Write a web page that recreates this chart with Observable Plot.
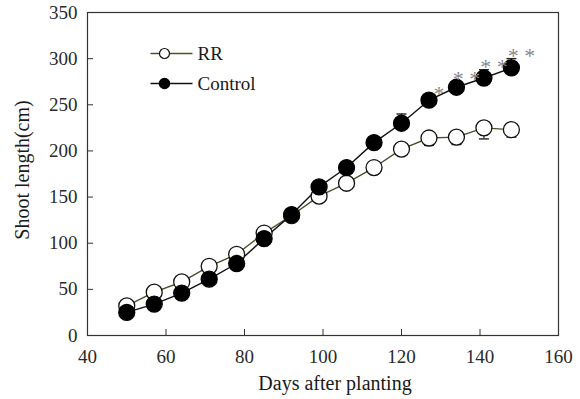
<!DOCTYPE html>
<html>
<head>
<meta charset="utf-8">
<script src="https://cdn.jsdelivr.net/npm/d3@7"></script>
<script src="https://cdn.jsdelivr.net/npm/@observablehq/plot@0.6"></script>
<style>
  html, body { margin: 0; padding: 0; background: #fff; }
  #chart { width: 580px; height: 399px; }
</style>
</head>
<body>
<div id="chart"></div>
<script>
// ---- data ----
const days = [50, 57, 64, 71, 78, 85, 92, 99, 106, 113, 120, 127, 134, 141, 148];
const rrLength = [32, 47, 58, 75, 88, 111, 130, 151, 165, 182, 202, 214, 215, 225, 223];
const rrErr = [1, 1, 2, 2, 2, 2, 3, 2, 2, 3, 3, 8, 8, 12, 8];
const controlLength = [25, 34, 46, 61, 78, 105, 131, 161, 182, 209, 230, 255, 269, 279, 290];
const controlErr = [1, 2, 2, 2, 2, 3, 3, 3, 4, 3, 10, 4, 6, 9, 10];
const sigDays = [127, 134, 141, 148];
const sigMarks = ["*", "* *", "* *", "* *"];
const xTicks = [40, 60, 80, 100, 120, 140, 160];
const yTicks = [0, 50, 100, 150, 200, 250, 300, 350];
const seriesNames = ["RR", "Control"];

// ---- tables built from the arrays ----
const rr = days.map((d, i) => ({day: d, v: rrLength[i], e: rrErr[i]}));
const ctl = days.map((d, i) => ({day: d, v: controlLength[i], e: controlErr[i]}));
const sig = sigDays.map((d, i) => {
  const j = days.indexOf(d);
  return {day: d, top: controlLength[j] + controlErr[j], mark: sigMarks[i]};
});

const capSymbol = {draw(ctx) { ctx.moveTo(-5, 0); ctx.lineTo(5, 0); }};
const legendLine = {draw(ctx) { ctx.moveTo(-14, 0); ctx.lineTo(28, 0); }};

const font = "Liberation Serif, Times New Roman, serif";
const rrLine = "#4f4f2c";

const chart = Plot.plot({
  width: 580,
  height: 399,
  marginLeft: 87,
  marginRight: 22,
  marginTop: 12,
  marginBottom: 64,
  style: {fontFamily: font, fontSize: "19px", color: "#2a2a2a", background: "#fff"},
  x: {domain: [40, 160], ticks: xTicks},
  y: {domain: [0, 350], ticks: yTicks},
  marks: [
    Plot.frame({stroke: "#333", strokeWidth: 1.2}),
    Plot.axisX({ticks: xTicks, tickSize: -6, tickPadding: 20, label: null, stroke: "#333", fontSize: 19}),
    Plot.axisY({ticks: yTicks, tickSize: -6, tickPadding: 16, label: null, stroke: "#333", fontSize: 19}),
    Plot.text(["Days after planting"], {frameAnchor: "bottom", textAnchor: "middle", lineAnchor: "middle", dx: 12, dy: 48, fontSize: 20, fill: "#1a1a1a"}),
    Plot.text(["Shoot length(cm)"], {frameAnchor: "left", textAnchor: "middle", lineAnchor: "middle", dx: -65, dy: -4, rotate: -90, fontSize: 20, fill: "#1a1a1a"}),
    // error bars: RR downward, Control upward
    Plot.ruleX(rr, {x: "day", y1: "v", y2: d => d.v - d.e, stroke: "#222", strokeWidth: 1.2}),
    Plot.dot(rr, {x: "day", y: d => d.v - d.e, symbol: capSymbol, stroke: "#222", strokeWidth: 1.4}),
    Plot.ruleX(ctl, {x: "day", y1: "v", y2: d => d.v + d.e, stroke: "#222", strokeWidth: 1.2}),
    Plot.dot(ctl, {x: "day", y: d => d.v + d.e, symbol: capSymbol, stroke: "#222", strokeWidth: 1.4}),
    // lines
    Plot.line(rr, {x: "day", y: "v", stroke: rrLine, strokeWidth: 1.4}),
    Plot.line(ctl, {x: "day", y: "v", stroke: "#111", strokeWidth: 1.4}),
    // markers
    Plot.dot(rr, {x: "day", y: "v", r: 8, fill: "#fff", stroke: "#111", strokeWidth: 1.3}),
    Plot.dot(ctl, {x: "day", y: "v", r: 8, fill: "#000", stroke: "#000", strokeWidth: 1.3}),
    // significance asterisks
    Plot.text(sig, {x: "day", y: "top", text: "mark", dx: 10, dy: -3, fontSize: 22, fill: "#888"}),
    // legend
    Plot.dot([seriesNames[0]], {frameAnchor: "top-left", dx: 77, dy: 41, symbol: legendLine, stroke: rrLine, strokeWidth: 1.4}),
    Plot.dot([seriesNames[0]], {frameAnchor: "top-left", dx: 77, dy: 41, r: 5, fill: "#fff", stroke: "#111", strokeWidth: 1.2}),
    Plot.text([seriesNames[0]], {frameAnchor: "top-left", textAnchor: "start", lineAnchor: "middle", dx: 110, dy: 41, fontSize: 19, fill: "#1a1a1a"}),
    Plot.dot([seriesNames[1]], {frameAnchor: "top-left", dx: 77, dy: 71, symbol: legendLine, stroke: "#111", strokeWidth: 1.4}),
    Plot.dot([seriesNames[1]], {frameAnchor: "top-left", dx: 77, dy: 71, r: 5, fill: "#000", stroke: "#000"}),
    Plot.text([seriesNames[1]], {frameAnchor: "top-left", textAnchor: "start", lineAnchor: "middle", dx: 110, dy: 71, fontSize: 19, fill: "#1a1a1a"})
  ]
});
document.getElementById("chart").appendChild(chart);
</script>
</body>
</html>
